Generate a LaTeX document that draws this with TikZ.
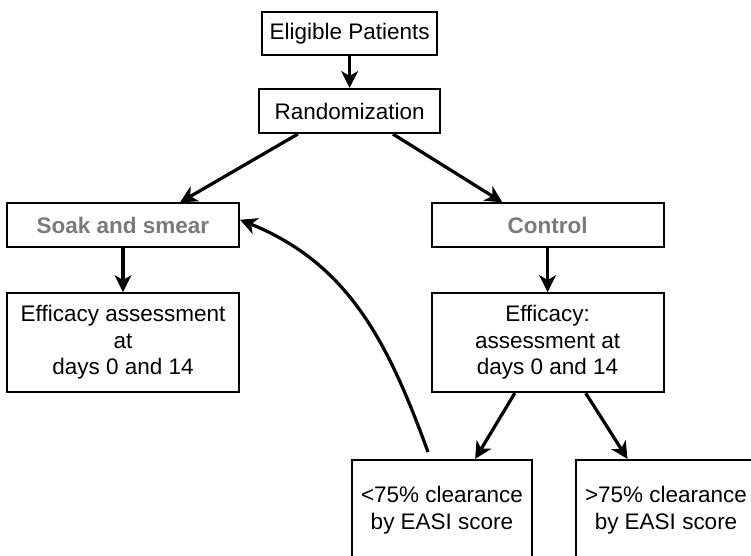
\documentclass[tikz,border=0pt]{standalone}
\usepackage{fontspec}
\setmainfont{Liberation Sans}
\usepackage{tikz}
\usetikzlibrary{arrows.meta}

\begin{document}
\begin{tikzpicture}[
  box/.style={draw=black, line width=1.5pt, inner sep=0pt, align=center,
    font=\fontsize{16}{18.8}\selectfont},
  armbox/.style={box, minimum width=5.8cm, minimum height=1.1cm,
    text=black!52, font=\fontsize{16}{18.8}\selectfont\bfseries},
  arr/.style={line width=2.3pt, -{Stealth[length=12pt, width=12pt, inset=3.5pt]}}
]
\useasboundingbox (0,0) rectangle (18.775,13.875);
\clip (0,0) rectangle (18.775,13.875);
% top of the trial
\node[box, minimum width=4.375cm, minimum height=1.075cm] (elig) at (8.74,13.04) {Eligible Patients};
\node[box, minimum width=4.525cm, minimum height=1.1cm] (rand) at (8.74,11.1) {Randomization};
% the two arms
\node[armbox] (soak) at (3.075,8.24) {Soak and smear};
\node[armbox] (ctrl) at (13.69,8.24) {Control};
\node[box, minimum width=5.8cm, minimum height=2.475cm] (effl) at (3.075,5.31) {Efficacy assessment\\at\\days 0 and 14};
\node[box, minimum width=5.8cm, minimum height=2.475cm] (effr) at (13.69,5.31) {Efficacy:\\assessment at\\days 0 and 14};
% outcomes
\node[box, minimum width=4.5cm, minimum height=2.5cm] (low) at (11.05,1.125) {<75\% clearance\\by EASI score};
\node[box, minimum width=4.5cm, minimum height=2.5cm] (high) at (16.65,1.125) {>75\% clearance\\by EASI score};
\coordinate (back) at (10.7,2.575);

\draw[arr] (elig) -- (rand);
\draw[arr] (rand.204) -- (soak.22);
\draw[arr] (rand.332.6) -- (ctrl.153.7);
\draw[arr] (soak) -- (effl);
\draw[arr] (ctrl) -- (effr);
\draw[arr] (effr.237) -- (low.57);
\draw[arr] (effr.307) -- (high.127);
\draw[arr] (back) to[out=110, in=-22] ([yshift=4pt]soak.east);
\end{tikzpicture}
\end{document}
